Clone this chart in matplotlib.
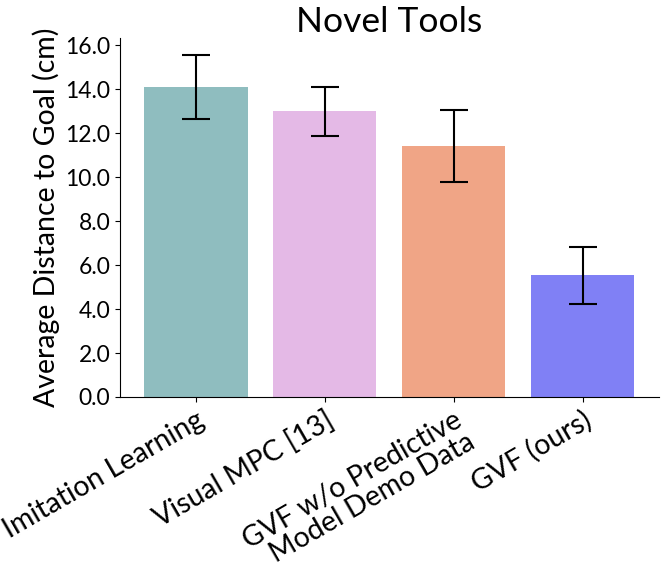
import matplotlib
matplotlib.use("Agg")
import matplotlib.pyplot as plt

categories = ["Imitation Learning", "Visual MPC [13]", "GVF w/o Predictive\nModel Demo Data", "GVF (ours)"]
means = [14.1, 13.0, 11.42, 5.53]
errors = [1.47, 1.11, 1.63, 1.31]
colors = ["#8FBDBF", "#E4B9E6", "#F0A586", "#8080F5"]

plt.rcParams['font.family'] = ['Lato', 'DejaVu Sans']

fig = plt.figure(figsize=(6.61, 5.66), dpi=100)
ax = fig.add_axes([0.1815, 0.2986, 0.815, 0.635])
x = list(range(len(categories)))
ax.bar(x, means, width=0.8, color=colors, yerr=errors, capsize=10,
       error_kw=dict(elinewidth=1.5, capthick=1.5, ecolor='black'))
ax.set_xticks(x)
ax.set_xticklabels(categories, rotation=30, ha='right', rotation_mode='anchor',
                   fontsize=20.5, linespacing=1.0)
ax.set_yticks([0, 2, 4, 6, 8, 10, 12, 14, 16])
ax.set_yticklabels([f"{v:.1f}" for v in [0, 2, 4, 6, 8, 10, 12, 14, 16]], fontsize=16.5)
ax.set_ylabel("Average Distance to Goal (cm)", fontsize=20.5, labelpad=4)
ax.set_title("Novel Tools", fontsize=25.5, pad=3)
ax.spines['top'].set_visible(False)
ax.spines['right'].set_visible(False)
fig.savefig("out.png", dpi=100)
